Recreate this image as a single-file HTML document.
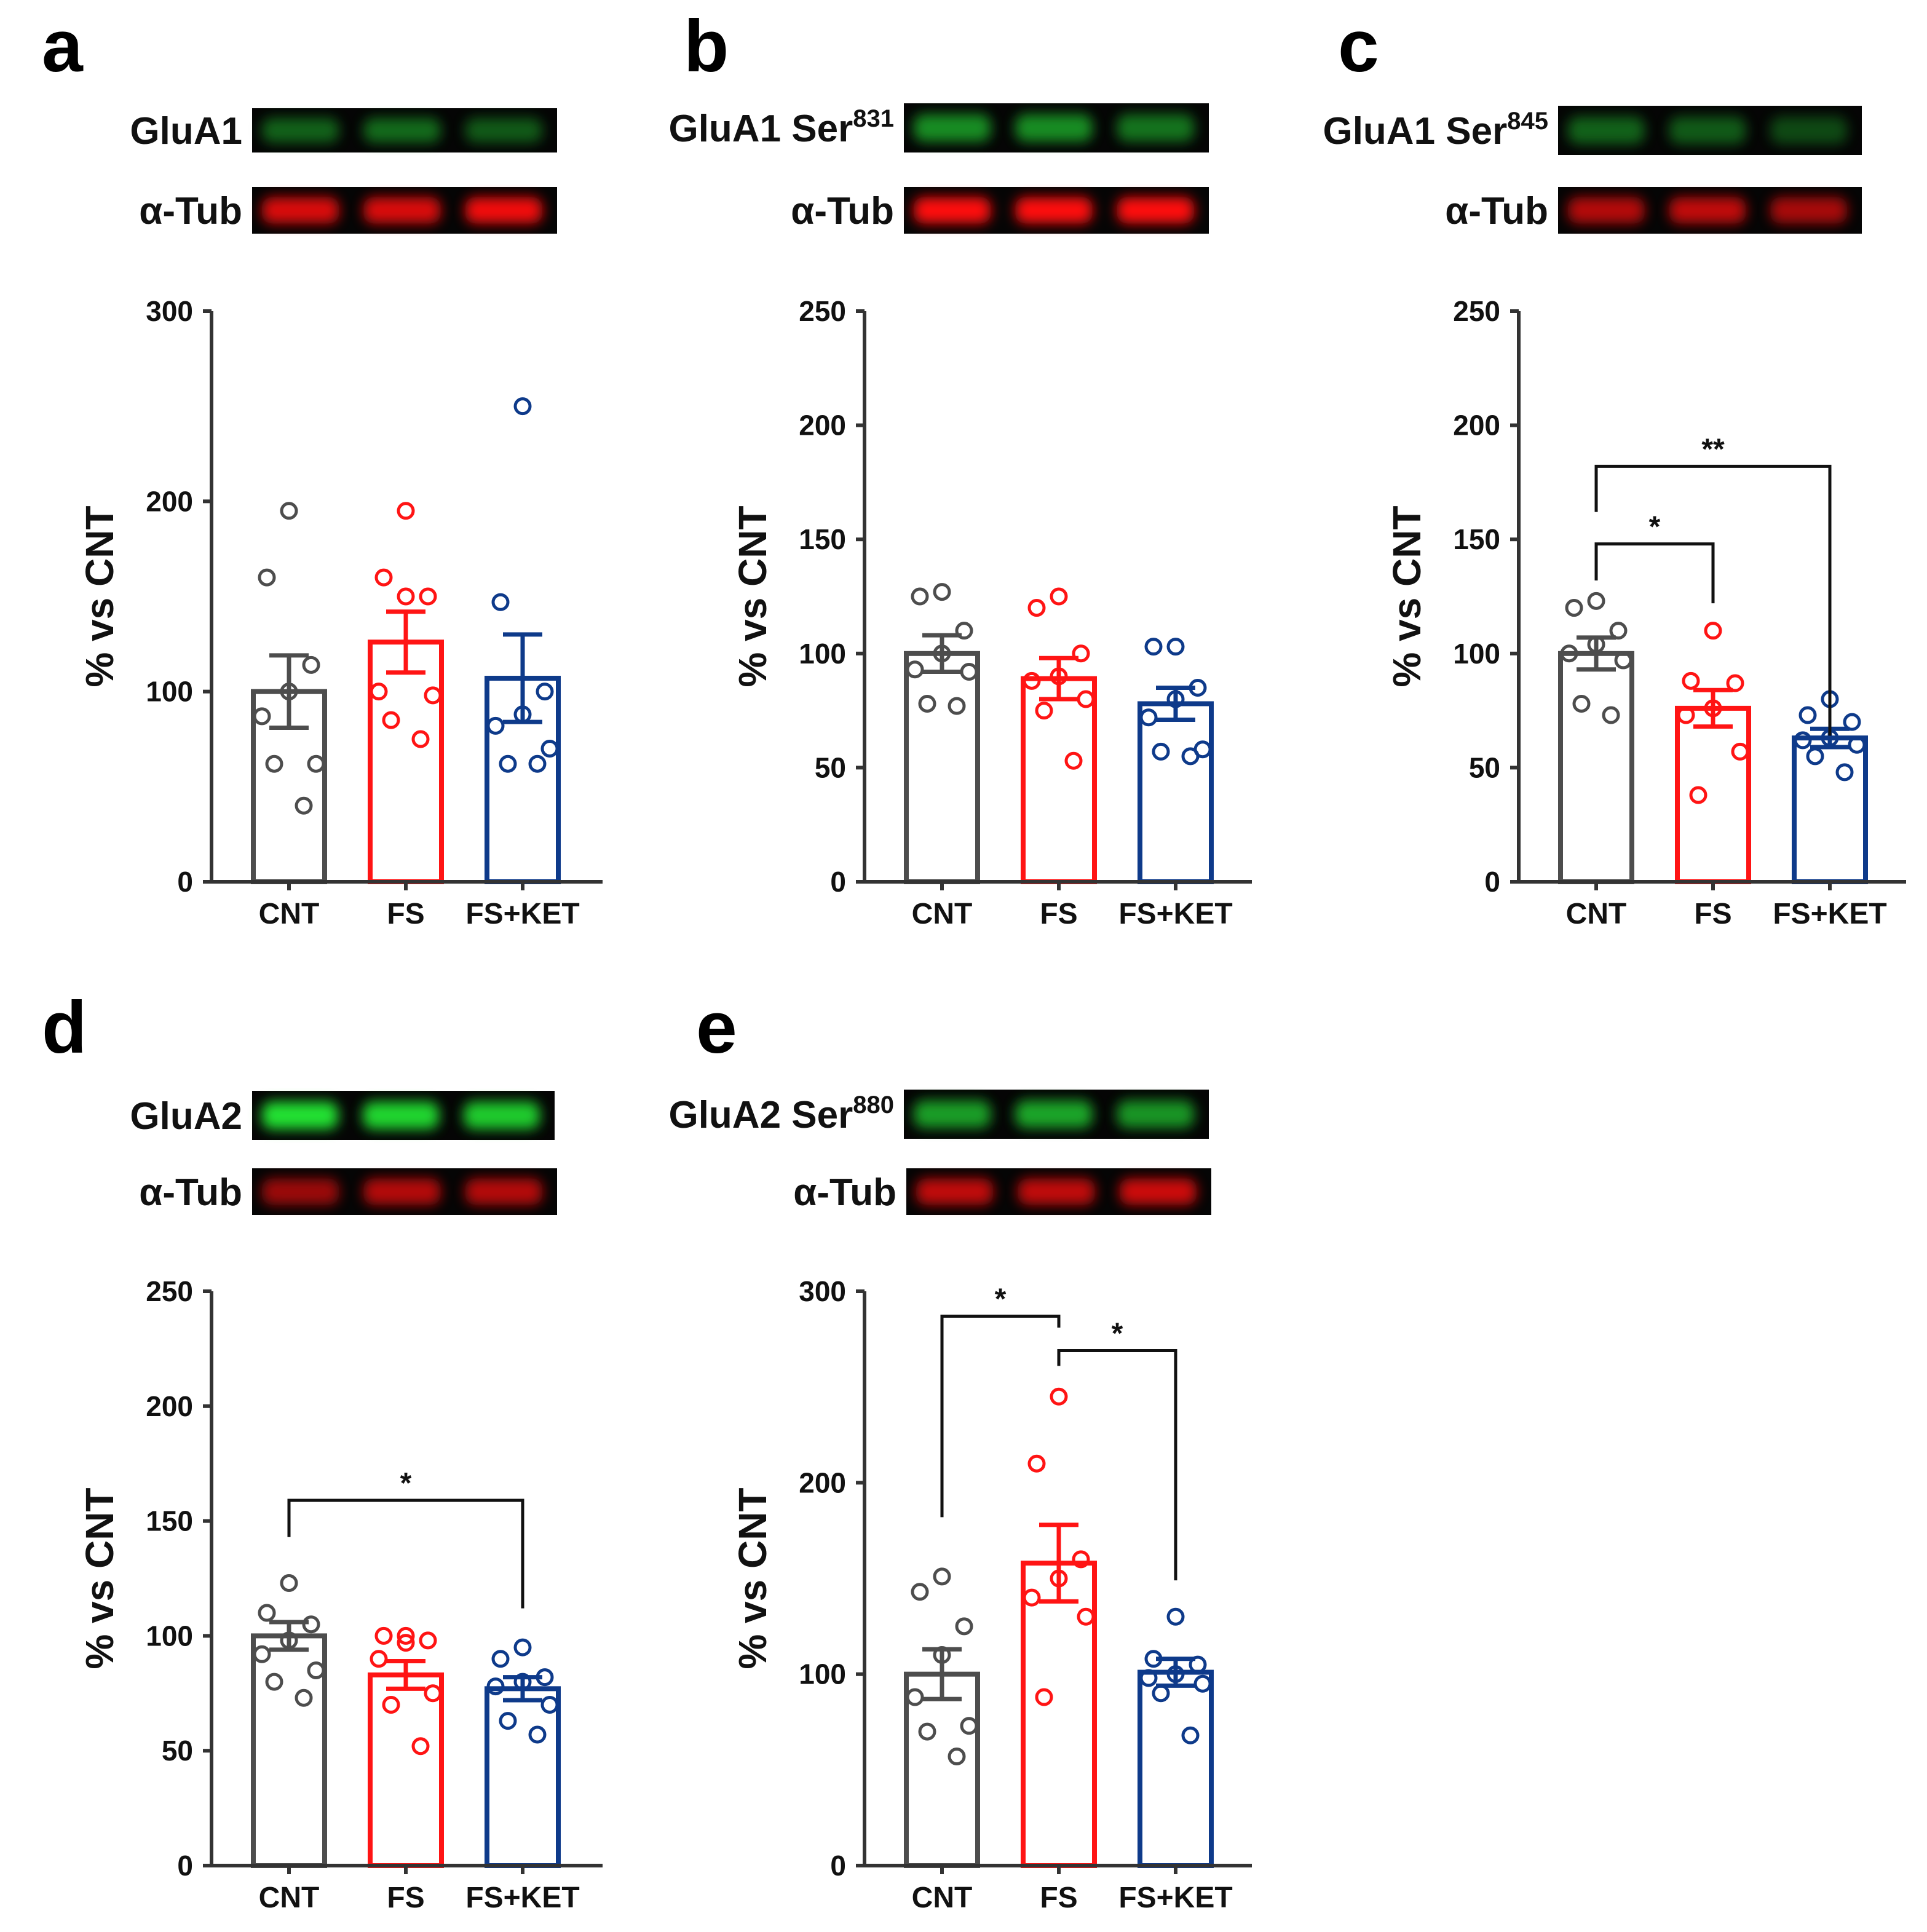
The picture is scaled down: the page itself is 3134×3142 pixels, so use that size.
<!DOCTYPE html>
<html><head><meta charset="utf-8"><style>
html,body{margin:0;padding:0;background:#fff;}
svg{display:block;font-family:"Liberation Sans",sans-serif;}
</style></head><body>
<svg id="fig" width="3134" height="3142" viewBox="0 0 1567 1571" xmlns="http://www.w3.org/2000/svg">
<defs>
<filter id="blur" x="-20%" y="-50%" width="140%" height="200%"><feGaussianBlur stdDeviation="5"/></filter>
</defs>
</svg>
<script>
// ---- data ----
const categories = ["CNT", "FS", "FS+KET"];
const aMeans = [100, 126, 107];
const aSems = [19, 16, 23];
const aCnt = [195, 160, 114, 100, 87, 62, 62, 40];
const aFs = [195, 160, 150, 150, 100, 98, 85, 75];
const aKet = [250, 147, 100, 88, 82, 70, 62, 62];
const aTicks = [0, 100, 200, 300];

const bMeans = [100, 89, 78];
const bSems = [8, 9, 7];
const bCnt = [127, 125, 110, 100, 93, 92, 78, 77];
const bFs = [125, 120, 100, 90, 88, 80, 75, 53];
const bKet = [103, 103, 85, 80, 72, 58, 57, 55];
const bTicks = [0, 50, 100, 150, 200, 250];

const cMeans = [100, 76, 63];
const cSems = [7, 8, 4];
const cCnt = [123, 120, 110, 104, 100, 97, 78, 73];
const cFs = [110, 88, 87, 76, 73, 57, 38];
const cKet = [80, 73, 70, 63, 62, 60, 55, 48];
const cTicks = [0, 50, 100, 150, 200, 250];

const dMeans = [100, 83, 77];
const dSems = [6, 6, 5];
const dCnt = [123, 110, 105, 98, 92, 85, 80, 73];
const dFs = [100, 100, 98, 97, 90, 75, 70, 52];
const dKet = [95, 90, 82, 80, 78, 70, 63, 57];
const dTicks = [0, 50, 100, 150, 200, 250];

const eMeans = [100, 158, 101];
const eSems = [13, 20, 7];
const eCnt = [151, 143, 125, 110, 88, 73, 70, 57];
const eFs = [245, 210, 160, 150, 140, 130, 88];
const eKet = [130, 108, 105, 100, 98, 95, 90, 68];
const eTicks = [0, 100, 200, 300];

// ---- layout ----
const NS = "http://www.w3.org/2000/svg";
const svg = document.getElementById('fig');
const colors = ["#4d4d4d", "#ff1414", "#0e3a8a"];
const jitter = [0, -18, 18, 0, -22, 22, -12, 12];
function mk(tag, attrs, parent, text){
  const e = document.createElementNS(NS, tag);
  for (const k in attrs) e.setAttribute(k, attrs[k]);
  if (text !== undefined) e.textContent = text;
  (parent || svg).appendChild(e);
  return e;
}

function chart(id, ox, x1, y0, ytop, ymax, ticks, means, sems, pts, brackets){
  const g = mk('g', {});
  
  
  const yS = v => y0 - (v / ymax) * (y0 - ytop);
  const xS = i => ox + 63 + i * 95;
  means.forEach((m, i) => {
    const b = mk('rect', {x: xS(i) - 29, y: yS(m), width: 58, height: y0 - yS(m), fill: 'none', stroke: colors[i], 'stroke-width': 4}, g);
    
    
  });
  pts.forEach((arr, i) => {
    arr.forEach((v, j) => {
      const c = mk('circle', {cx: xS(i) + jitter[j % jitter.length], cy: yS(v), r: 6, fill: 'none', stroke: colors[i], 'stroke-width': 2.5}, g);
      
      
    });
  });
  means.forEach((m, i) => {
    const s = sems[i], x = xS(i);
    mk('line', {x1: x, x2: x, y1: yS(m - s), y2: yS(m + s), stroke: colors[i], 'stroke-width': 3.5}, g);
    mk('line', {x1: x - 16, x2: x + 16, y1: yS(m + s), y2: yS(m + s), stroke: colors[i], 'stroke-width': 3.5}, g);
    mk('line', {x1: x - 16, x2: x + 16, y1: yS(m - s), y2: yS(m - s), stroke: colors[i], 'stroke-width': 3.5}, g);
  });
  const ya = mk('line', {x1: ox, x2: ox, y1: ytop, y2: y0, stroke: '#333', 'stroke-width': 3}, g);
  
  
  const xa = mk('line', {x1: ox - 6, x2: x1, y1: y0, y2: y0, stroke: '#333', 'stroke-width': 3}, g);
  
  
  ticks.forEach(t => {
    mk('line', {x1: ox - 7, x2: ox, y1: yS(t), y2: yS(t), stroke: '#333', 'stroke-width': 3}, g);
    const tl = mk('text', {x: ox - 15, y: yS(t) + 8, 'text-anchor': 'end', 'font-size': 23, 'font-weight': 'bold', fill: '#111'}, g, t);
    
    
  });
  categories.forEach((c, i) => {
    mk('line', {x1: xS(i), x2: xS(i), y1: y0, y2: y0 + 7, stroke: '#333', 'stroke-width': 3}, g);
    const xl = mk('text', {x: xS(i), y: y0 + 34, 'text-anchor': 'middle', 'font-size': 24, 'font-weight': 'bold', fill: '#111'}, g, c);
    
    
  });
  const yc = (ytop + y0) / 2;
  const yt = mk('text', {x: ox - 80, y: yc, 'text-anchor': 'middle', 'font-size': 32, 'font-weight': 'bold', fill: '#111', transform: `rotate(-90 ${ox - 80} ${yc})`}, g, '% vs CNT');
  
  
  (brackets || []).forEach(b => {
    const [i, j, top, ei, ej, lab] = b;
    mk('polyline', {points: `${xS(i)},${yS(ei)} ${xS(i)},${yS(top)} ${xS(j)},${yS(top)} ${xS(j)},${yS(ej)}`, fill: 'none', stroke: '#111', 'stroke-width': 2.5}, g);
    const st = mk('text', {x: (xS(i) + xS(j)) / 2, y: yS(top) - 6, 'text-anchor': 'middle', 'font-size': 24, 'font-weight': 'bold', fill: '#111'}, g, lab);
    
    
  });
}

function blot(name, x, y, w, h, color, lanes, label, sup){
  const g = mk('g', {});
  
  
  mk('rect', {x: x, y: y, width: w, height: h, fill: '#050505'}, g);
  lanes.forEach((a, k) => {
    mk('rect', {x: x + 8 + k * w / 3, y: y + h * 0.22, width: w / 3 - 20, height: h * 0.56, rx: 8, fill: color, opacity: a, filter: 'url(#blur)'}, g);
  });
  const t = mk('text', {x: x - 8, y: y + h / 2 + 11, 'text-anchor': 'end', 'font-size': 31, 'font-weight': 'bold', fill: '#111'}, g);
  t.textContent = label;
  if (sup) { mk('tspan', {'font-size': 20, dy: -12}, t, sup); }
}

function letter(ch, x, y){
  const t = mk('text', {x: x, y: y, 'font-size': 60, 'font-weight': 'bold', fill: '#000'}, svg, ch);
  
  
}

letter('a', 34, 58); letter('b', 556, 58); letter('c', 1088, 58);
letter('d', 34, 856); letter('e', 566, 856);

const G = '#1fae2a', R = '#ff1010';
blot('blot-glua1', 205, 88, 248, 36, G, [0.55, 0.6, 0.5], 'GluA1');
blot('blot-tub-a', 205, 152, 248, 38, R, [0.85, 0.85, 0.95], 'α-Tub');
blot('blot-glua1-ser831', 735, 84, 248, 40, G, [0.8, 0.8, 0.65], 'GluA1 Ser', '831');
blot('blot-tub-b', 735, 152, 248, 38, R, [1, 1, 1], 'α-Tub');
blot('blot-glua1-ser845', 1267, 86, 247, 40, G, [0.55, 0.5, 0.4], 'GluA1 Ser', '845');
blot('blot-tub-c', 1267, 152, 247, 38, R, [0.7, 0.75, 0.65], 'α-Tub');
blot('blot-glua2', 205, 887, 246, 40, '#22e030', [1, 0.95, 0.9], 'GluA2');
blot('blot-tub-d', 205, 950, 248, 38, R, [0.6, 0.7, 0.7], 'α-Tub');
blot('blot-glua2-ser880', 735, 886, 248, 40, G, [0.9, 0.95, 0.85], 'GluA2 Ser', '880');
blot('blot-tub-e', 737, 950, 248, 38, R, [0.75, 0.75, 0.8], 'α-Tub');

chart('a', 172, 490, 717, 253, 300, aTicks, aMeans, aSems, [aCnt, aFs, aKet]);
chart('b', 703, 1018, 717, 253, 250, bTicks, bMeans, bSems, [bCnt, bFs, bKet]);
chart('c', 1235, 1550, 717, 253, 250, cTicks, cMeans, cSems, [cCnt, cFs, cKet],
  [[0, 1, 148, 132, 122, '*'], [0, 2, 182, 162, 64, '**']]);
chart('d', 172, 490, 1517, 1050, 250, dTicks, dMeans, dSems, [dCnt, dFs, dKet],
  [[0, 2, 159, 143, 112, '*']]);
chart('e', 703, 1018, 1517, 1050, 300, eTicks, eMeans, eSems, [eCnt, eFs, eKet],
  [[0, 1, 287, 182, 281, '*'], [1, 2, 269, 261, 149, '*']]);
</script>
</body></html>
